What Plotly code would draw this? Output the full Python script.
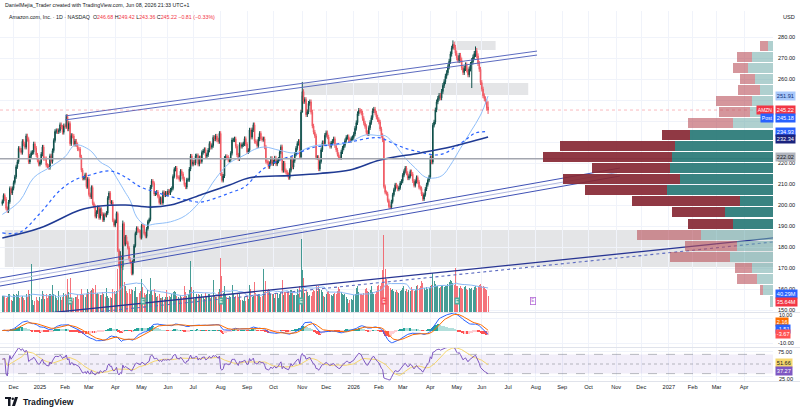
import numpy as np
import pandas as pd
import plotly.graph_objects as go

W, H = 800, 415

# ---------------- daily closes (USD), month by month ----------------
c_2024_11 = [201.7, 204.6, 202.9, 198.4, 197.1, 201.5, 207.9, 205.7, 207.9]
c_2024_12 = [210.7, 213.4, 218.2, 220.6, 227.0, 226.1, 225.0, 230.3, 229.0, 227.5,
             232.9, 231.2, 220.5, 223.3, 224.9, 225.1, 229.1, 227.1, 223.8, 221.3, 219.4]
c_2025_01 = [220.2, 224.2, 227.6, 222.1, 222.1, 218.9, 218.5, 217.8, 223.4, 220.7,
             225.9, 230.7, 235.0, 235.4, 234.9, 235.4, 238.2, 237.1, 234.6, 237.7]
c_2025_02 = [237.4, 242.1, 236.2, 238.8, 229.2, 233.1, 232.8, 228.9, 230.4, 228.7,
             226.7, 226.6, 222.9, 216.6, 212.7, 212.8, 214.4, 208.7, 212.3]
c_2025_03 = [205.0, 203.8, 208.4, 200.7, 199.3, 194.5, 196.6, 198.9, 193.9, 198.0,
             195.7, 192.8, 195.5, 195.0, 196.2, 203.3, 205.7, 201.1, 201.4, 192.7, 190.3]
c_2025_04 = [192.2, 196.0, 178.4, 171.0, 175.3, 170.7, 191.1, 181.2, 184.9, 182.1,
             179.6, 174.3, 172.6, 167.3, 173.2, 180.6, 186.5, 189.0, 187.7, 187.4, 184.4]
c_2025_05 = [190.2, 190.0, 186.4, 185.0, 188.7, 192.1, 193.1, 208.6, 211.4, 210.3,
             205.2, 205.6, 206.2, 204.1, 201.1, 203.1, 201.0, 206.0, 204.7, 205.7, 205.0]
c_2025_06 = [206.7, 205.7, 207.2, 207.9, 213.6, 217.0, 217.6, 213.2, 213.2, 212.1,
             216.1, 214.8, 212.5, 209.7, 208.5, 212.0, 212.0, 217.1, 223.3, 219.4]
c_2025_07 = [220.5, 219.9, 223.4, 223.5, 219.4, 222.5, 220.7, 225.0, 225.7, 226.4,
             223.2, 223.9, 226.1, 229.3, 227.5, 228.3, 232.2, 231.4, 232.8, 231.0, 230.2, 234.1]
c_2025_08 = [214.8, 211.7, 213.8, 222.3, 223.1, 222.7, 221.3, 221.5, 224.6, 231.0,
             231.0, 231.5, 228.0, 223.8, 222.0, 228.8, 227.9, 228.7, 229.1, 231.6, 229.0]
c_2025_09 = [225.3, 226.0, 235.7, 232.3, 235.8, 238.2, 230.3, 230.0, 228.2, 231.4,
             234.1, 231.6, 231.2, 231.5, 227.6, 220.7, 220.2, 218.2, 219.8, 222.2, 219.6]
c_2025_10 = [220.6, 222.4, 219.5, 220.9, 221.8, 225.2, 227.7, 216.4, 220.0, 216.4,
             215.6, 214.5, 213.0, 216.5, 222.0, 218.0, 221.1, 224.2, 227.0, 229.3,
             230.3, 222.9, 244.2]
c_2025_11 = [254.0, 249.3, 250.2, 243.0, 244.4, 248.4, 249.1, 244.2, 237.6, 234.7,
             232.9, 222.6, 222.7, 217.1, 220.7, 226.3, 229.7, 229.2, 233.2]
c_2025_12 = [234.4, 232.4, 229.1, 227.9, 229.5, 230.3, 231.5, 228.2, 226.2, 224.1,
             222.6, 222.5, 225.3, 227.1, 228.4, 230.6, 232.2, 232.5, 231.0, 230.8, 231.6, 232.1]
c_2026_01 = [233.8, 236.5, 239.2, 243.5, 245.1, 244.6, 243.8, 241.2, 239.0, 237.4,
             234.5, 233.9, 236.8, 239.3, 241.6, 244.9, 245.6, 243.8, 241.9, 240.6]
c_2026_02 = [239.5, 236.2, 233.1, 231.0, 208.8, 206.0, 205.4, 202.1, 199.3, 198.9,
             201.6, 204.9, 207.3, 209.6, 208.8, 207.5, 208.2, 210.4, 211.3]
c_2026_03 = [214.2, 216.0, 217.6, 215.1, 212.8, 213.6, 215.9, 214.7, 211.4, 209.3,
             211.2, 213.1, 211.0, 208.4, 207.9, 205.2, 202.8, 204.9, 207.6, 209.7, 211.8, 213.4]
c_2026_04 = [222.6, 220.4, 238.0, 239.5, 245.3, 249.1, 250.8, 252.2, 251.0, 254.1,
             256.9, 258.7, 261.3, 263.0, 265.8, 268.4, 271.9, 274.6, 276.5, 275.0, 272.3]
c_2026_05 = [270.1, 268.8, 271.2, 269.0, 265.4, 263.1, 265.0, 266.7, 264.3, 262.0,
             264.8, 266.9, 268.2, 270.4, 272.1, 273.5, 271.0, 267.4, 264.6, 258.3]
c_2026_06 = [255.2, 252.0, 250.6, 249.1, 246.03, 245.22]

# ---------------- daily volume (millions of shares) ----------------
v_2024_11 = [37, 37, 36, 32, 34, 42, 41, 28, 24]
v_2024_12 = [41, 38, 42, 39, 48, 32, 33, 36, 32, 28, 42, 35, 51, 40, 108, 28, 15, 25, 33, 28, 25]
v_2025_01 = [33, 29, 47, 40, 29, 40, 31, 37, 40, 39, 61, 40, 38, 32, 27, 47, 34, 27, 33, 44]
v_2025_02 = [42, 38, 76, 46, 77, 27, 26, 31, 33, 35, 39, 30, 41, 53, 42, 39, 35, 40, 52]
v_2025_03 = [45, 48, 49, 55, 52, 62, 41, 44, 40, 38, 38, 46, 40, 34, 55, 37, 31, 34, 32, 52, 48]
v_2025_04 = [42, 48, 98, 118, 125, 120, 116, 68, 60, 48, 44, 52, 40, 53, 49, 48, 56, 35, 33, 43, 48]
v_2025_05 = [74, 57, 44, 38, 41, 51, 41, 78, 51, 38, 52, 43, 34, 36, 42, 31, 32, 35, 29, 34, 51]
v_2025_06 = [35, 36, 34, 40, 46, 48, 45, 36, 33, 30, 38, 34, 34, 60, 45, 36, 38, 51, 116, 56]
v_2025_07 = [49, 30, 31, 40, 40, 38, 33, 41, 35, 30, 43, 34, 41, 42, 31, 35, 72, 38, 35, 35, 45, 52]
v_2025_08 = [122, 82, 43, 59, 40, 33, 32, 36, 35, 61, 40, 33, 36, 42, 34, 40, 28, 27, 26, 33, 26]
v_2025_09 = [36, 29, 61, 52, 33, 37, 69, 44, 39, 42, 41, 33, 37, 97, 45, 70, 49, 52, 50, 40, 40]
v_2025_10 = [40, 32, 44, 44, 31, 41, 46, 72, 38, 46, 45, 46, 45, 38, 50, 45, 39, 38, 39, 52, 41, 60, 166]
v_2025_11 = [95, 78, 44, 47, 45, 36, 38, 37, 45, 51, 48, 58, 47, 60, 52, 49, 45, 37, 33]
v_2025_12 = [42, 45, 48, 40, 38, 36, 41, 44, 40, 48, 56, 52, 45, 40, 38, 42, 35, 30, 20, 28, 30, 27]
v_2026_01 = [38, 42, 55, 60, 45, 42, 40, 38, 44, 52, 55, 48, 45, 50, 58, 46, 42, 40, 48, 60]
v_2026_02 = [62, 58, 66, 95, 175, 98, 75, 62, 58, 55, 50, 52, 48, 45, 50, 46, 44, 48, 50]
v_2026_03 = [55, 60, 48, 52, 46, 50, 47, 56, 52, 48, 50, 58, 62, 55, 60, 70, 65, 54, 50, 56, 52, 55]
v_2026_04 = [58, 62, 88, 70, 64, 60, 58, 55, 57, 60, 62, 56, 58, 60, 64, 68, 72, 70, 66, 62, 100]
v_2026_05 = [60, 58, 55, 60, 54, 52, 56, 58, 52, 50, 55, 52, 54, 50, 56, 58, 55, 60, 62, 64]
v_2026_06 = [60, 58, 56, 52, 50, 35.64]

first_open = 200.6
last_bar = {"open": 246.68, "high": 249.42, "low": 243.36, "close": 245.22}
# notable wick extremes: date -> (high, low)
wick_extremes = {
    "2025-04-07": (178.0, 161.4),
    "2025-04-09": (192.6, 169.0),
    "2025-11-03": (258.6, 252.0),
    "2026-04-28": (278.4, 274.0),
    "2026-05-19": (270.0, 255.7),
    "2026-05-22": (275.5, 270.5),
}

# last values shown on the indicator scales
vol_ma_last = 40.29
macd_last, signal_last, hist_last = -1.51, 2.16, -3.67
rsi_last, rsi_ma_last = 37.27, 51.66

# moving averages: (bar number, value)
sma50_bar = [0, 14, 25, 38, 50, 58, 70, 78, 86, 91, 98, 102, 107, 114, 122, 134, 146, 158,
             170, 181, 193, 201, 209, 221, 233, 245, 253, 265, 277, 289, 301, 305, 313, 321,
             329, 337, 345, 351, 357, 365, 373, 381, 387]
sma50_val = [195.5, 202, 213, 218, 223, 228.6, 226, 220.5, 217.6, 213, 206, 202, 194.3, 190.5,
             191, 192, 195, 202, 212.6, 220, 223.8, 226.5, 227.6, 226, 224.8, 227.6, 228.6,
             228.6, 230, 233.3, 233, 233, 228.6, 222.4, 217.6, 213.3, 212.9, 214.3, 219, 227,
             234.8, 242.8, 251.91]
sma100_bar = [0, 14, 30, 46, 58, 70, 86, 98, 110, 122, 134, 146, 158, 170, 181, 193, 201, 209,
              221, 233, 245, 261, 277, 293, 301, 309, 321, 333, 345, 353, 361, 369, 377, 387]
sma100_val = [186.7, 187, 196, 207, 212, 214.3, 216.2, 213.3, 208.6, 206.2, 204, 202.4, 201.4,
              203.3, 205.7, 208.6, 213.3, 217.6, 221.4, 223.8, 227, 228.6, 230, 231.9, 232,
              230, 227, 225.2, 223.8, 224.8, 227.6, 231, 234.3, 234.93]
sma200_bar = [0, 30, 62, 78, 98, 118, 134, 158, 181, 197, 229, 253, 277, 301, 333, 357, 387]
sma200_val = [184.3, 189, 197.6, 199.5, 200, 199, 200, 204.8, 209.5, 213, 214, 215, 216.7,
              221.4, 224.8, 227.6, 232.34]

# drawings (bar number, price)
upper_channel = [[(50, 242.4), (426, 273.3)], [(50, 240.5), (426, 271.4)]]
rising_channel = [[(-2, 165.2), (492, 217.6)], [(-2, 163.3), (492, 215.7)], [(-2, 161.4), (492, 213.8)]]
lower_trend = [[(-2, 146.2), (614, 184.3)], [(-2, 144.3), (614, 182.4)]]
zones = [((2, 614), (170.5, 188.1)), ((239, 419), (252.4, 258.1)), ((360, 393), (273.8, 278.1))]
poc_level = 222.02

# volume profile (visible range), rows of 5.3 USD from 151.4
vp_bin_low, vp_bin = 151.4, 5.3
vp_up = [3, 10, 16, 21, 43, 36, 72, 40, 48, 33, 106, 93, 103, 101, 98, 83, 40, 23, 21, 13, 18, 25, 21, 5]
vp_down = [0, 3, 20, 17, 60, 52, 64, 45, 53, 108, 82, 117, 78, 129, 115, 28, 45, 31, 36, 22, 15, 15, 15, 8]
vp_value_area = (7, 15)

earnings = ["2025-02-07", "2025-05-02", "2025-08-01", "2025-10-31", "2026-02-06", "2026-05-01"]
earn_beat = [True, True, True, True, False, True]
next_earnings = "2026-07-30"

holidays = ['2024-11-28', '2024-12-25', '2025-01-01', '2025-01-09', '2025-01-20', '2025-02-17',
            '2025-04-18', '2025-05-26', '2025-06-19', '2025-07-04', '2025-09-01', '2025-11-27',
            '2025-12-25', '2026-01-01', '2026-01-19', '2026-02-16', '2026-04-03', '2026-05-25',
            '2026-06-19', '2026-07-03', '2026-09-07', '2026-11-26', '2026-12-25', '2027-01-01',
            '2027-01-18', '2027-02-15', '2027-03-26', '2027-05-31']

# ---------------- assemble ----------------
close = np.array(c_2024_11 + c_2024_12 + c_2025_01 + c_2025_02 + c_2025_03 + c_2025_04 +
                 c_2025_05 + c_2025_06 + c_2025_07 + c_2025_08 + c_2025_09 + c_2025_10 +
                 c_2025_11 + c_2025_12 + c_2026_01 + c_2026_02 + c_2026_03 + c_2026_04 +
                 c_2026_05 + c_2026_06, dtype=float)
volume = np.array(v_2024_11 + v_2024_12 + v_2025_01 + v_2025_02 + v_2025_03 + v_2025_04 +
                  v_2025_05 + v_2025_06 + v_2025_07 + v_2025_08 + v_2025_09 + v_2025_10 +
                  v_2025_11 + v_2025_12 + v_2026_01 + v_2026_02 + v_2026_03 + v_2026_04 +
                  v_2026_05 + v_2026_06, dtype=float)
N = len(close)
volume = volume[:N]
bd = pd.offsets.CustomBusinessDay(holidays=holidays)
dates = pd.date_range(end="2026-06-08", periods=N, freq=bd)
future = pd.date_range("2026-06-09", "2027-06-30", freq=bd)
all_dates = dates.append(future)
bar = np.arange(N)
pos_of = {d.strftime("%Y-%m-%d"): i for i, d in enumerate(all_dates)}

opens = np.r_[first_open, close[:-1]]
opens[-1] = last_bar["open"]
highs = np.maximum(opens, close) * 1.0045
lows = np.minimum(opens, close) * 0.9955
highs[-1], lows[-1] = last_bar["high"], last_bar["low"]
for d, (hh, ll) in wick_extremes.items():
    if d in pos_of and pos_of[d] < N:
        highs[pos_of[d]] = hh
        lows[pos_of[d]] = ll

s_close = pd.Series(close)
ema12 = s_close.ewm(span=12, adjust=False).mean()
ema26 = s_close.ewm(span=26, adjust=False).mean()
macd = ema12 - ema26
signal = macd.ewm(span=9, adjust=False).mean()
hist = macd - signal
delta = s_close.diff().fillna(0)
gain = delta.clip(lower=0).ewm(alpha=1 / 14, adjust=False).mean()
loss = (-delta.clip(upper=0)).ewm(alpha=1 / 14, adjust=False).mean()
rsi = (100 - 100 / (1 + gain / loss.replace(0, np.nan))).fillna(60)
rsi_ma = rsi.rolling(14, min_periods=1).mean()
vol_ma = pd.Series(volume).rolling(20, min_periods=1).mean()

# ---------------- geometry ----------------
PLOT_R = 773 / W
X0, X1 = -1.83, 614.0
P_LO, P_HI = 149.05, 292.38
def yd(top, bot):
    return [1 - bot / H, 1 - top / H]
DOM_MAIN = yd(11, 312)
DOM_MACD = yd(313, 347)
DOM_RSI = yd(348, 381)

UP, DN = "#0e4f4a", "#f05a63"
GRID = "#f0f3fa"
FONT = "Liberation Sans, Arial, sans-serif"

fig = go.Figure()

# candles
fig.add_trace(go.Candlestick(
    x=bar, open=opens, high=highs, low=lows, close=close, xaxis="x", yaxis="y",
    increasing=dict(line=dict(color=UP, width=1), fillcolor=UP),
    decreasing=dict(line=dict(color=DN, width=1), fillcolor=DN),
    whiskerwidth=0, showlegend=False, hoverinfo="skip"))

# moving averages
fig.add_trace(go.Scatter(x=sma50_bar, y=sma50_val, mode="lines", line=dict(color="#90bff9", width=1, shape="spline"),
                         xaxis="x", yaxis="y", showlegend=False, hoverinfo="skip"))
fig.add_trace(go.Scatter(x=sma100_bar, y=sma100_val, mode="lines",
                         line=dict(color="#2962ff", width=1.2, dash="dot", shape="spline"),
                         xaxis="x", yaxis="y", showlegend=False, hoverinfo="skip"))
fig.add_trace(go.Scatter(x=sma200_bar, y=sma200_val, mode="lines", line=dict(color="#1f3a93", width=1.6, shape="spline"),
                         xaxis="x", yaxis="y", showlegend=False, hoverinfo="skip"))

# volume (overlay)
vcol = np.where(close >= opens, "rgba(38,140,130,0.85)", "rgba(242,80,90,0.8)")
fig.add_trace(go.Bar(x=bar, y=volume, marker=dict(color=list(vcol), line=dict(width=0)), width=0.8,
                     xaxis="x", yaxis="y2", showlegend=False, hoverinfo="skip"))
fig.add_trace(go.Scatter(x=bar, y=vol_ma, mode="lines", line=dict(color="#8ab8f5", width=1),
                         xaxis="x", yaxis="y2", showlegend=False, hoverinfo="skip"))

# drawings (overlay price axis)
def seg(pts, color, width, dash="solid"):
    fig.add_trace(go.Scatter(x=[p[0] for p in pts], y=[p[1] for p in pts], mode="lines",
                             line=dict(color=color, width=width, dash=dash),
                             xaxis="x", yaxis="y3", showlegend=False, hoverinfo="skip"))
for ln in upper_channel:
    seg(ln, "#5c6bc0", 1)
seg(rising_channel[0], "#3f51b5", 1)
seg(rising_channel[1], "#b0b8e0", 1)
seg(rising_channel[2], "#3f51b5", 1)
seg(lower_trend[0], "#283593", 1.3)
seg(lower_trend[1], "#5c6bc0", 1.1, "dot")
seg([(X0, poc_level), (X1, poc_level)], "#a3a6af", 1.6)
seg([(X0, close[-1]), (X1, close[-1])], "rgba(242,54,69,0.35)", 1, "dot")

# volume profile
vp_mid = [vp_bin_low + vp_bin * (k + 0.5) for k in range(len(vp_up))]
in_va = [vp_value_area[0] <= k <= vp_value_area[1] for k in range(len(vp_up))]
up_col = ["rgba(40,120,118,0.92)" if v else "rgba(110,170,168,0.55)" for v in in_va]
dn_col = ["rgba(135,40,52,0.92)" if v else "rgba(185,80,90,0.6)" for v in in_va]
fig.add_trace(go.Bar(y=vp_mid, x=vp_up, orientation="h", width=vp_bin * 0.9, marker=dict(color=up_col, line=dict(width=0)),
                     xaxis="x4", yaxis="y4", showlegend=False, hoverinfo="skip"))
fig.add_trace(go.Bar(y=vp_mid, x=vp_down, orientation="h", width=vp_bin * 0.9, marker=dict(color=dn_col, line=dict(width=0)),
                     xaxis="x4", yaxis="y4", showlegend=False, hoverinfo="skip"))

# MACD
hcol = []
for i, h in enumerate(hist):
    prev = hist.iloc[i - 1] if i else h
    if h >= 0:
        hcol.append("#26a69a" if h >= prev else "#b2dfdb")
    else:
        hcol.append("#ffcdd2" if h > prev else "#ff5252")
fig.add_trace(go.Bar(x=bar, y=hist, marker=dict(color=hcol, line=dict(width=0)), width=0.8,
                     xaxis="x2", yaxis="y5", showlegend=False, hoverinfo="skip"))
fig.add_trace(go.Scatter(x=bar, y=macd, mode="lines", line=dict(color="#2962ff", width=1),
                         xaxis="x2", yaxis="y5", showlegend=False, hoverinfo="skip"))
fig.add_trace(go.Scatter(x=bar, y=signal, mode="lines", line=dict(color="#ff6d00", width=1),
                         xaxis="x2", yaxis="y5", showlegend=False, hoverinfo="skip"))

# RSI
fig.add_trace(go.Scatter(x=[X0, X1, X1, X0], y=[70, 70, 30, 30], fill="toself", mode="none",
                         fillcolor="rgba(126,87,194,0.1)", xaxis="x3", yaxis="y6",
                         showlegend=False, hoverinfo="skip"))
for lvl, dsh in [(70, "dash"), (50, "dot"), (30, "dash")]:
    fig.add_trace(go.Scatter(x=[X0, X1], y=[lvl, lvl], mode="lines",
                             line=dict(color="rgba(120,123,134,0.5)", width=1, dash=dsh),
                             xaxis="x3", yaxis="y6", showlegend=False, hoverinfo="skip"))
fig.add_trace(go.Scatter(x=bar, y=rsi_ma, mode="lines", line=dict(color="#f5d76e", width=1),
                         xaxis="x3", yaxis="y6", showlegend=False, hoverinfo="skip"))
fig.add_trace(go.Scatter(x=bar, y=rsi, mode="lines", line=dict(color="#7e57c2", width=1),
                         xaxis="x3", yaxis="y6", showlegend=False, hoverinfo="skip"))

# ---------------- ticks ----------------
pos = pd.Series(np.arange(len(all_dates)), index=all_dates)
firsts = pos.groupby(all_dates.to_period("M")).first()
tickvals, ticktext = [], []
for per, i in firsts.items():
    if per == dates[0].to_period("M") or i > X1 - 2:
        continue
    tickvals.append(int(i))
    ticktext.append(str(per.year) if per.month == 1 else per.strftime("%b"))

axfont = dict(family=FONT, size=5.6, color="#131722")
xcommon = dict(domain=[0, PLOT_R], range=[X0, X1], showgrid=True, gridcolor=GRID, gridwidth=1,
               tickvals=tickvals, ticktext=ticktext, zeroline=False, showline=False, ticks="")
price_ticks = list(range(150, 281, 10))
covered = {230, 240, 250}   # hidden behind the last-value tags on the scale
price_text = ["" if v in covered else f"{v:.2f}" for v in price_ticks]

layout = dict(
    width=W, height=H, margin=dict(l=0, r=0, t=0, b=0),
    paper_bgcolor="white", plot_bgcolor="white", barmode="stack", bargap=0,
    xaxis=dict(**xcommon, anchor="y", showticklabels=False, rangeslider=dict(visible=False)),
    xaxis2=dict(**xcommon, anchor="y5", showticklabels=False),
    xaxis3=dict(**xcommon, anchor="y6", showticklabels=True, tickfont=axfont, ticklabelstandoff=1),
    xaxis4=dict(domain=[0, PLOT_R], range=[773, 0], overlaying="x", anchor="y4", visible=False),
    yaxis=dict(domain=DOM_MAIN, range=[P_LO, P_HI], side="right", tickvals=price_ticks,
               ticktext=price_text, tickfont=axfont, showgrid=True,
               gridcolor=GRID, zeroline=False, ticks="", ticklabelstandoff=4),
    yaxis2=dict(domain=DOM_MAIN, range=[0, 684], overlaying="y", visible=False),
    yaxis3=dict(domain=DOM_MAIN, range=[P_LO, P_HI], overlaying="y", visible=False),
    yaxis4=dict(domain=DOM_MAIN, range=[P_LO, P_HI], overlaying="y", anchor="x4", visible=False),
    yaxis5=dict(domain=DOM_MACD, range=[-13.2, 14], side="right", anchor="x2", tickvals=[-10, 10],
                ticktext=["-10.00", ""], tickfont=axfont, showgrid=True, gridcolor=GRID,
                zeroline=False, ticks="", ticklabelstandoff=4),
    yaxis6=dict(domain=DOM_RSI, range=[14.6, 83.3], side="right", anchor="x3", tickvals=[25, 75],
                ticktext=["", "75.00"], tickfont=axfont, showgrid=True, gridcolor=GRID,
                zeroline=False, ticks="", ticklabelstandoff=4),
    font=dict(family=FONT),
)
fig.update_layout(**layout)

# zones
for (xa, xb), (pa, pb) in zones:
    fig.add_shape(type="rect", xref="x", yref="y", x0=xa, x1=xb, y0=pa, y1=pb,
                  fillcolor="rgba(120,123,134,0.2)", line=dict(width=0), layer="below")

# pane separators
for ypx in [312.5, 347.5, 381.5]:
    fig.add_shape(type="line", xref="paper", yref="paper", x0=0, x1=1, y0=1 - ypx / H, y1=1 - ypx / H,
                  line=dict(color="#e0e3eb", width=1))

# ---------------- text ----------------
def txt(x, y, s, size=5.6, color="#131722", anchor="left", bold=False):
    fig.add_annotation(xref="paper", yref="paper", x=x / W, y=1 - y / H, text=f"<b>{s}</b>" if bold else s,
                       showarrow=False, xanchor=anchor, yanchor="middle",
                       font=dict(family=FONT, size=size, color=color))

txt(3, 5.5, "DanielMejia_Trader created with TradingView.com, Jun 08, 2026 21:33 UTC+1", 5.3)
red = "#f23645"
hdr = ("Amazon.com, Inc. · 1D · NASDAQ  "
       f"O<span style='color:{red}'>246.68</span> H<span style='color:{red}'>249.42</span> "
       f"L<span style='color:{red}'>243.36</span> C<span style='color:{red}'>245.22</span> "
       f"<span style='color:{red}'>−0.81 (−0.33%)</span>")
txt(7, 17, hdr, 5.3)
txt(781, 17, "USD", 5.6)

def tag(yref, val, s, bg, fg="white", shift=0, x=775):
    fig.add_annotation(xref="paper", yref=yref, x=x / W, y=val, text=s, showarrow=False,
                       xanchor="left", yanchor="middle", yshift=shift, bgcolor=bg, borderpad=0.8,
                       font=dict(family=FONT, size=5.6, color=fg))

tag("y", 251.91, "251.91", "#a9c9fb", "#0d2f7a")
tag("y", 245.22, "245.22", "#f23645")
fig.add_annotation(xref="paper", yref="y", x=774 / W, y=245.22, text="AMZN", showarrow=False, xanchor="right",
                   yanchor="middle", bgcolor="#f23645", borderpad=0.8, font=dict(family=FONT, size=5, color="white"))
tag("y", 245.18, "245.18", "#2962ff", shift=-8)
fig.add_annotation(xref="paper", yref="y", x=774 / W, y=245.18, yshift=-8, text="Post", showarrow=False,
                   xanchor="right", yanchor="middle", bgcolor="#2962ff", borderpad=0.8,
                   font=dict(family=FONT, size=5, color="white"))
tag("y", 234.93, "234.93", "#2962ff")
tag("y", 232.34, "232.34", "#1a237e", shift=-2)
tag("y", 222.02, "222.02", "#b2b5be", "#131722", shift=2)
tag("y2", vol_ma_last, f"{vol_ma_last:.2f}M", "#2962ff")
tag("y2", float(volume[-1]), f"{volume[-1]:.2f}M", "#f23645", shift=-6)
# 10.00 tick of the MACD scale sits just above the signal tag
fig.add_annotation(xref="paper", yref="y5", x=777 / W, y=10, yshift=3.5, text="10.00", showarrow=False,
                   xanchor="left", yanchor="middle", font=dict(family=FONT, size=5.3, color="#131722"))
tag("y5", signal_last, f"{signal_last:.2f}", "#ff6d00", shift=5.6)
tag("y5", macd_last, f"{macd_last:.2f}", "#2962ff", shift=3.6)
tag("y5", hist_last, f"{hist_last:.2f}", "#ff5252", shift=0.6)
tag("y6", rsi_ma_last, f"{rsi_ma_last:.2f}", "#f5d76e", "#131722")
tag("y6", rsi_last, f"{rsi_last:.2f}", "#7e57c2", shift=-1)
# 25.00 tick label sits just under the RSI tag
fig.add_annotation(xref="paper", yref="y6", x=777 / W, y=25, yshift=-3, text="25.00", showarrow=False,
                   xanchor="left", yanchor="middle", font=dict(family=FONT, size=5.6, color="#131722"))

# earnings markers
for d, beat in zip(earnings, earn_beat):
    if d in pos_of:
        fig.add_annotation(xref="x", yref="paper", x=pos_of[d], y=1 - 305 / H, text="E", showarrow=False,
                           bgcolor="#4caf9f" if beat else "#f7525f", borderpad=0.5,
                           font=dict(family=FONT, size=4.5, color="white"))
fig.add_annotation(xref="x", yref="paper", x=pos_of[next_earnings], y=1 - 305 / H, text="E", showarrow=False,
                   bgcolor="white", bordercolor="#b36bd6", borderwidth=0.8, borderpad=0.5,
                   font=dict(family=FONT, size=4.5, color="#b36bd6"))

# TradingView logo
fig.add_shape(type="rect", xref="paper", yref="paper", x0=5 / W, x1=11 / W, y0=1 - 399 / H, y1=1 - 397 / H,
              fillcolor="#131722", line=dict(width=0))
fig.add_shape(type="rect", xref="paper", yref="paper", x0=8 / W, x1=10.5 / W, y0=1 - 406 / H, y1=1 - 397 / H,
              fillcolor="#131722", line=dict(width=0))
fig.add_shape(type="circle", xref="paper", yref="paper", x0=11.5 / W, x1=14 / W, y0=1 - 400 / H, y1=1 - 397.5 / H,
              fillcolor="#131722", line=dict(width=0))
fig.add_shape(type="path", xref="paper", yref="paper",
              path=f"M {15/W} {1-397/H} L {18/W} {1-397/H} L {15/W} {1-406/H} L {12/W} {1-406/H} Z",
              fillcolor="#131722", line=dict(width=0))
txt(21, 401.5, "TradingView", 8.6, bold=True)

fig.write_html("out.html")
